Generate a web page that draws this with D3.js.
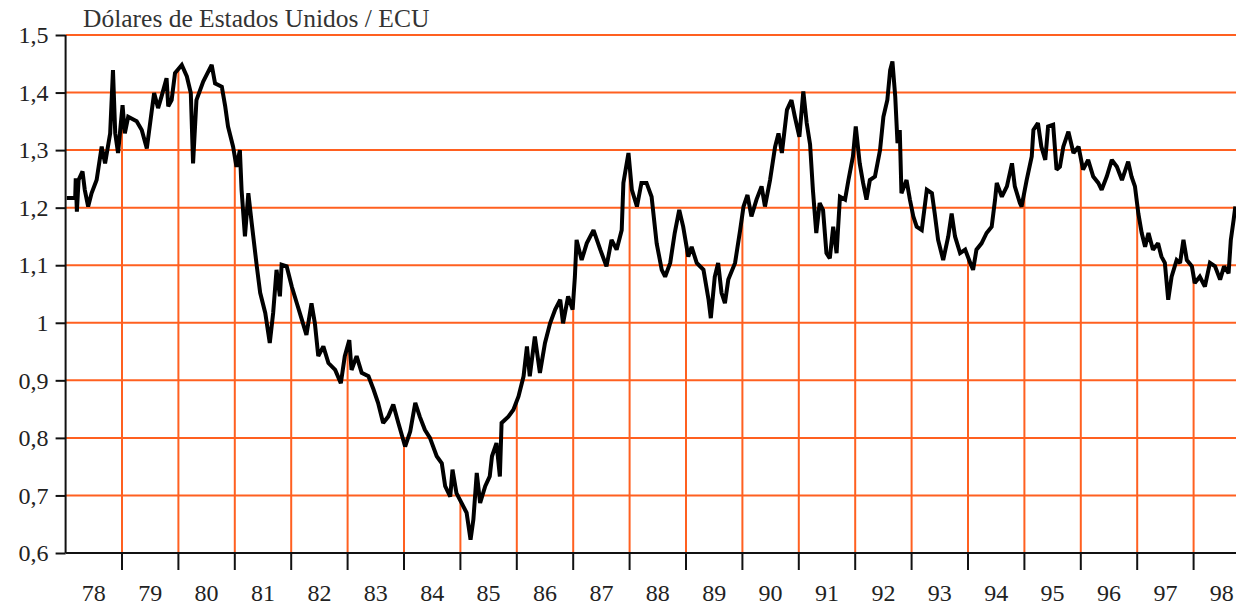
<!DOCTYPE html>
<html>
<head>
    <meta charset="utf-8">
    <script src="https://cdn.jsdelivr.net/npm/d3@7"></script>
    <title>USD / ECU</title>
    <style>
        * {
            margin: 0;
            padding: 0;
        }

        body {
            background: #fff;
        }

        #chart {
            width: 1236px;
            height: 609px;
        }

        text {
            font-family: "Liberation Serif", "Times New Roman", serif;
        }
    </style>
</head>
<body>
    <div id="chart"></div>
    <script>
        // decimal year, dollars per ECU
        var years = [
            1978.02, 1978.17, 1978.18, 1978.20, 1978.23, 1978.30, 1978.34, 1978.40, 1978.46, 1978.55,
            1978.64, 1978.70, 1978.79, 1978.84, 1978.88, 1978.93, 1979.01, 1979.05, 1979.11, 1979.26,
            1979.35, 1979.44, 1979.53, 1979.57, 1979.64, 1979.70, 1979.79, 1979.82, 1979.88, 1979.94,
            1980.06, 1980.15, 1980.22, 1980.26, 1980.32, 1980.44, 1980.59, 1980.65, 1980.77, 1980.83,
            1980.88, 1980.97, 1981.03, 1981.09, 1981.12, 1981.18, 1981.24, 1981.30, 1981.39, 1981.45,
            1981.54, 1981.62, 1981.68, 1981.74, 1981.80, 1981.83, 1981.92, 1982.01, 1982.10, 1982.19,
            1982.27, 1982.36, 1982.42, 1982.48, 1982.57, 1982.66, 1982.78, 1982.88, 1982.95, 1983.03,
            1983.07, 1983.16, 1983.25, 1983.37, 1983.46, 1983.54, 1983.63, 1983.72, 1983.81, 1983.90,
            1984.02, 1984.11, 1984.20, 1984.28, 1984.37, 1984.46, 1984.58, 1984.67, 1984.73, 1984.82,
            1984.86, 1984.93, 1985.02, 1985.11, 1985.18, 1985.23, 1985.29, 1985.35, 1985.44, 1985.52,
            1985.56, 1985.64, 1985.70, 1985.73, 1985.85, 1985.94, 1986.03, 1986.12, 1986.18, 1986.23,
            1986.32, 1986.41, 1986.50, 1986.59, 1986.68, 1986.77, 1986.82, 1986.91, 1986.99, 1987.03,
            1987.06, 1987.15, 1987.24, 1987.36, 1987.48, 1987.59, 1987.68, 1987.77, 1987.86, 1987.89,
            1987.98, 1988.04, 1988.13, 1988.21, 1988.30, 1988.39, 1988.48, 1988.57, 1988.63, 1988.72,
            1988.80, 1988.88, 1988.95, 1989.04, 1989.10, 1989.19, 1989.31, 1989.40, 1989.44, 1989.51,
            1989.57, 1989.63, 1989.69, 1989.75, 1989.87, 1989.96, 1990.02, 1990.09, 1990.16, 1990.25,
            1990.34, 1990.40, 1990.49, 1990.58, 1990.64, 1990.70, 1990.79, 1990.87, 1990.93, 1991.01,
            1991.08, 1991.14, 1991.20, 1991.25, 1991.31, 1991.37, 1991.43, 1991.49, 1991.55, 1991.61,
            1991.67, 1991.73, 1991.82, 1991.88, 1991.96, 1992.01, 1992.08, 1992.14, 1992.20, 1992.26,
            1992.35, 1992.44, 1992.50, 1992.57, 1992.62, 1992.66, 1992.71, 1992.75, 1992.79, 1992.82,
            1992.91, 1992.97, 1993.03, 1993.09, 1993.18, 1993.27, 1993.36, 1993.41, 1993.47, 1993.56,
            1993.65, 1993.71, 1993.77, 1993.86, 1993.95, 1994.04, 1994.09, 1994.15, 1994.24, 1994.33,
            1994.42, 1994.48, 1994.51, 1994.60, 1994.69, 1994.78, 1994.83, 1994.92, 1994.95, 1995.04,
            1995.13, 1995.16, 1995.24, 1995.30, 1995.37, 1995.42, 1995.51, 1995.57, 1995.63, 1995.69,
            1995.78, 1995.87, 1995.96, 1996.04, 1996.13, 1996.22, 1996.31, 1996.37, 1996.46, 1996.55,
            1996.64, 1996.73, 1996.84, 1996.90, 1996.96, 1997.02, 1997.08, 1997.14, 1997.20, 1997.28,
            1997.37, 1997.43, 1997.49, 1997.55, 1997.61, 1997.70, 1997.76, 1997.82, 1997.88, 1997.97,
            1998.02, 1998.11, 1998.20, 1998.29, 1998.38, 1998.47, 1998.54, 1998.62, 1998.66, 1998.71,
            1998.74
        ];

        var usdPerEcu = [
            1.217, 1.217, 1.251, 1.193, 1.248, 1.263, 1.231, 1.202, 1.225, 1.248,
            1.306, 1.277, 1.329, 1.439, 1.329, 1.295, 1.378, 1.329, 1.358, 1.350,
            1.335, 1.303, 1.370, 1.399, 1.373, 1.393, 1.425, 1.376, 1.387, 1.434,
            1.448, 1.428, 1.399, 1.277, 1.387, 1.419, 1.448, 1.416, 1.410, 1.376,
            1.341, 1.306, 1.271, 1.300, 1.231, 1.150, 1.225, 1.173, 1.098, 1.052,
            1.017, 0.965, 1.017, 1.092, 1.046, 1.101, 1.098, 1.063, 1.034, 1.005,
            0.979, 1.034, 0.999, 0.942, 0.959, 0.930, 0.918, 0.895, 0.942, 0.970,
            0.918, 0.942, 0.913, 0.907, 0.884, 0.861, 0.826, 0.837, 0.858, 0.826,
            0.785, 0.811, 0.861, 0.837, 0.814, 0.800, 0.768, 0.756, 0.716, 0.698,
            0.745, 0.704, 0.687, 0.670, 0.623, 0.658, 0.739, 0.687, 0.716, 0.733,
            0.768, 0.791, 0.733, 0.826, 0.837, 0.849, 0.872, 0.907, 0.959, 0.907,
            0.976, 0.913, 0.965, 0.999, 1.023, 1.040, 0.999, 1.046, 1.023, 1.080,
            1.144, 1.109, 1.138, 1.161, 1.127, 1.098, 1.144, 1.127, 1.161, 1.243,
            1.295, 1.231, 1.202, 1.243, 1.243, 1.219, 1.138, 1.092, 1.080, 1.104,
            1.156, 1.196, 1.167, 1.115, 1.132, 1.104, 1.092, 1.040, 1.008, 1.080,
            1.104, 1.052, 1.034, 1.075, 1.104, 1.161, 1.202, 1.222, 1.185, 1.214,
            1.237, 1.202, 1.248, 1.306, 1.329, 1.295, 1.370, 1.387, 1.358, 1.323,
            1.402, 1.347, 1.310, 1.231, 1.156, 1.208, 1.196, 1.121, 1.112, 1.167,
            1.121, 1.219, 1.214, 1.248, 1.289, 1.341, 1.277, 1.243, 1.214, 1.248,
            1.254, 1.300, 1.358, 1.387, 1.439, 1.454, 1.393, 1.312, 1.335, 1.225,
            1.248, 1.214, 1.185, 1.167, 1.161, 1.231, 1.225, 1.190, 1.144, 1.109,
            1.150, 1.190, 1.150, 1.121, 1.127, 1.104, 1.092, 1.127, 1.138, 1.156,
            1.167, 1.214, 1.243, 1.219, 1.237, 1.277, 1.237, 1.208, 1.202, 1.248,
            1.289, 1.335, 1.347, 1.306, 1.283, 1.341, 1.344, 1.266, 1.271, 1.306,
            1.332, 1.295, 1.306, 1.266, 1.283, 1.254, 1.243, 1.231, 1.254, 1.283,
            1.271, 1.248, 1.280, 1.254, 1.237, 1.190, 1.156, 1.132, 1.156, 1.127,
            1.138, 1.115, 1.104, 1.040, 1.080, 1.109, 1.104, 1.144, 1.109, 1.098,
            1.069, 1.080, 1.063, 1.104, 1.098, 1.075, 1.098, 1.086, 1.144, 1.179,
            1.202
        ];

        var yTicks = [0.6, 0.7, 0.8, 0.9, 1.0, 1.1, 1.2, 1.3, 1.4, 1.5];
        var yTickLabels = ["0,6", "0,7", "0,8", "0,9", "1", "1,1", "1,2", "1,3", "1,4", "1,5"];
        var yearBreaks = [1979, 1980, 1981, 1982, 1983, 1984, 1985, 1986, 1987, 1988,
            1989, 1990, 1991, 1992, 1993, 1994, 1995, 1996, 1997, 1998];
        var yearLabels = ["78", "79", "80", "81", "82", "83", "84", "85", "86", "87", "88",
            "89", "90", "91", "92", "93", "94", "95", "96", "97", "98"];
        var title = "Dólares de Estados Unidos / ECU";

        var W = 1236, H = 609;
        var margin = { top: 35, right: 0, bottom: 56, left: 65.6 };
        var orange = "#ff6020";

        var data = years.map(function (y, i) { return { t: y, v: usdPerEcu[i] }; });

        var svg = d3.select("#chart").append("svg")
            .attr("width", W)
            .attr("height", H);

        var x = d3.scaleLinear()
            .domain([1978, 1999])
            .range([margin.left, margin.left + 21 * 56.4]);

        var y = d3.scaleLinear()
            .domain([0.6, 1.5])
            .range([H - margin.bottom, margin.top]);

        // horizontal grid
        svg.append("g")
            .selectAll("line")
            .data(yTicks.slice(1))
            .enter()
            .append("line")
            .attr("x1", x(1978))
            .attr("x2", W)
            .attr("y1", d => y(d))
            .attr("y2", d => y(d))
            .style("stroke", orange)
            .style("stroke-width", 2);

        // vertical lines at year breaks, from the axis up to the curve
        var bis = d3.bisector(d => d.t).left;
        function valueAt(t) {
            var i = bis(data, t);
            var a = data[i - 1], b = data[i];
            return a.v + (b.v - a.v) * (t - a.t) / (b.t - a.t);
        }

        svg.append("g")
            .selectAll("line")
            .data(yearBreaks)
            .enter()
            .append("line")
            .attr("x1", d => x(d))
            .attr("x2", d => x(d))
            .attr("y1", y(0.6))
            .attr("y2", d => y(valueAt(d)))
            .style("stroke", orange)
            .style("stroke-width", 2);

        var line = d3.line()
            .x(d => x(d.t))
            .y(d => y(d.v));

        svg.append("path")
            .datum(data)
            .attr("d", line)
            .style("fill", "none")
            .style("stroke", "#000")
            .style("stroke-width", 4)
            .style("stroke-linejoin", "miter")
            .style("stroke-miterlimit", 2);

        // y axis
        var yAxis = svg.append("g")
            .attr("transform", "translate(" + x(1978) + ",0)")
            .call(d3.axisLeft(y)
                .tickValues(yTicks)
                .tickFormat((d, i) => yTickLabels[i])
                .tickSize(10)
                .tickPadding(7));

        yAxis.select(".domain").remove();
        yAxis.append("line")
            .attr("y1", y(1.5))
            .attr("y2", y(0.6))
            .style("stroke", "#111")
            .style("stroke-width", 2);
        yAxis.selectAll(".tick line").style("stroke", "#111").style("stroke-width", 2);
        yAxis.selectAll("text")
            .style("font-family", "'Liberation Serif', serif")
            .style("font-size", "24px")
            .style("fill", "#222");

        // x axis
        var xAxis = svg.append("g")
            .attr("transform", "translate(0," + y(0.6) + ")");

        xAxis.append("line")
            .attr("x1", x(1978))
            .attr("x2", W)
            .style("stroke", "#111")
            .style("stroke-width", 2);

        xAxis.selectAll(".tk")
            .data(yearBreaks)
            .enter()
            .append("line")
            .attr("x1", d => x(d))
            .attr("x2", d => x(d))
            .attr("y1", 0)
            .attr("y2", 17)
            .style("stroke", "#111")
            .style("stroke-width", 2);

        xAxis.selectAll(".lbl")
            .data(yearLabels)
            .enter()
            .append("text")
            .attr("x", (d, i) => x(1978 + i + 0.5))
            .attr("y", 48)
            .attr("text-anchor", "middle")
            .style("font-size", "24px")
            .style("fill", "#222")
            .text(d => d);

        svg.append("text")
            .attr("x", 83)
            .attr("y", 27)
            .style("font-size", "25.5px")
            .style("fill", "#333")
            .text(title);
    </script>
</body>
</html>
